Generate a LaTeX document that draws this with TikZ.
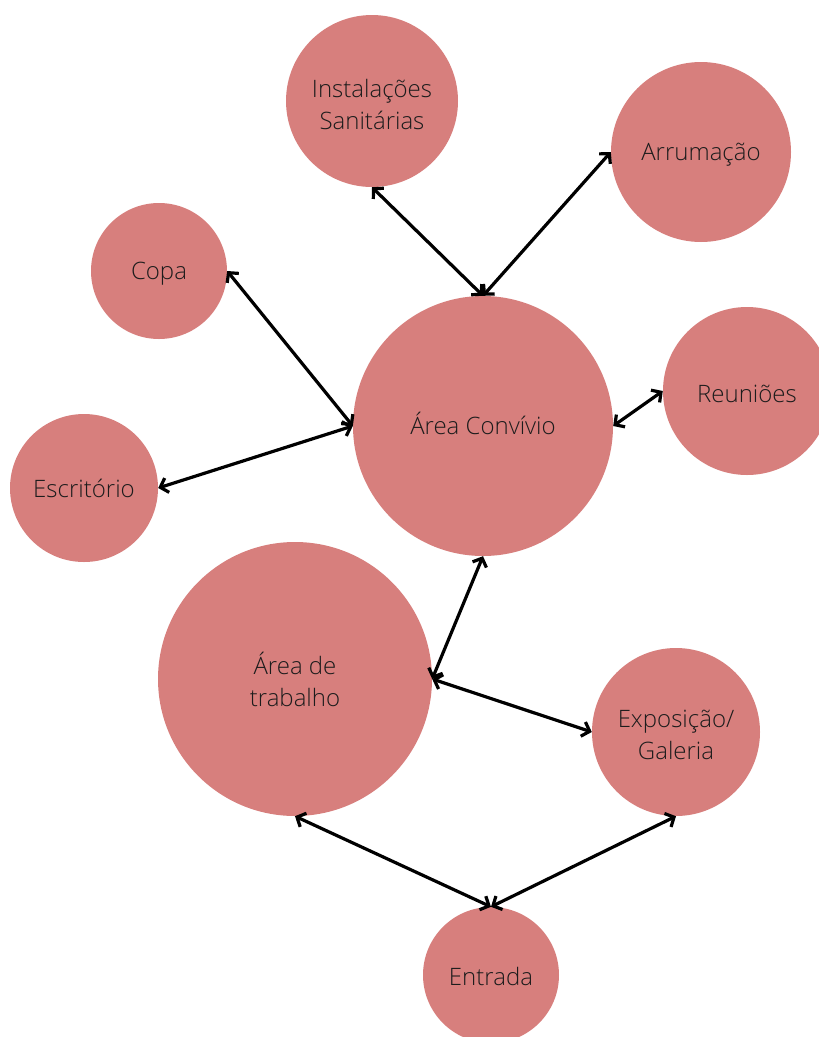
\documentclass[tikz,border=0pt]{standalone}
\usepackage{fontspec}
\setmainfont{Open Sans}[UprightFont=* Light]
\usetikzlibrary{arrows.meta}
\usetikzlibrary{positioning}
\definecolor{roomrose}{HTML}{D77F7D}
\definecolor{roomtext}{HTML}{1C1C1C}

\begin{document}
\begin{tikzpicture}[
  x=1pt, y=-1pt,
  > = {Straight Barb[length=7pt,width=15pt]},
  room/.style = {circle,fill=roomrose,inner sep=0pt},
  roomname/.style = {text=roomtext,align=center,yshift=-3pt,
                     font=\fontsize{24}{32}\selectfont},
  link/.style = {<->,line width=3.2pt,black}
  ]
	\useasboundingbox (0,0) rectangle (819,1037);

	\node[room,minimum size=172pt,label={[roomname]center:Instalações\\Sanitárias}] (sanit) at (372,101) {};
	\node[room,minimum size=180pt,label={[roomname]center:Arrumação}]     (arrum)    at (701,152) {};
	\node[room,minimum size=136pt,label={[roomname]center:Copa}]          (copa)     at (159,271) {};
	\node[room,minimum size=260pt,label={[roomname,yshift=6pt]center:Área Convívio}] (convivio) at (483,426) {};
	\node[room,minimum size=168pt,label={[roomname]center:Reuniões}]      (reuniao)  at (747,391) {};
	\node[room,minimum size=148pt,label={[roomname,yshift=3pt]center:Escritório}]    (escrit)   at (84,488)  {};
	\node[room,minimum size=274pt,label={[roomname,yshift=3pt]center:Área de\\trabalho}]    (trabalho) at (295,679) {};
	\node[room,minimum size=168pt,label={[roomname]center:Exposição/\\Galeria}]  (expo)     at (676,732) {};
	\node[room,minimum size=136pt,label={[roomname,yshift=2pt]center:Entrada}]       (entrada)  at (491,975) {};

	\draw[link] (sanit.south) -- (convivio.north);
	\draw[link] (arrum.west) -- (convivio.north);
	\draw[link] (copa.east) -- (convivio.west);
	\draw[link] (escrit.east) -- (convivio.west);
	\draw[link] (convivio.east) -- (reuniao.west);
	\draw[link] (trabalho.east) -- (convivio.south);
	\draw[link] (trabalho.east) -- (expo.west);
	\draw[link] (trabalho.south) -- (entrada.north);
	\draw[link] (expo.south) -- (entrada.north);

\end{tikzpicture}
\end{document}
